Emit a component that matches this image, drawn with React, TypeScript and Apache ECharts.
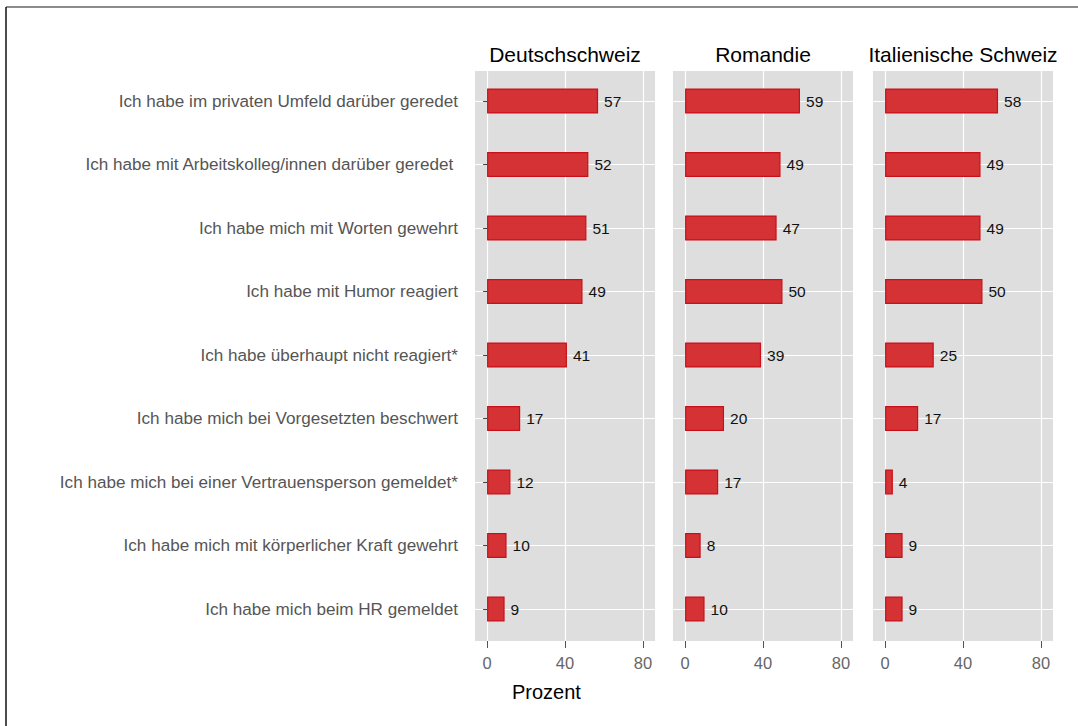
import React, { useEffect, useRef } from 'react';
import * as echarts from 'echarts';

const categories = [
  'Ich habe im privaten Umfeld darüber geredet',
  'Ich habe mit Arbeitskolleg/innen darüber geredet\u00a0',
  'Ich habe mich mit Worten gewehrt',
  'Ich habe mit Humor reagiert',
  'Ich habe überhaupt nicht reagiert*',
  'Ich habe mich bei Vorgesetzten beschwert',
  'Ich habe mich bei einer Vertrauensperson gemeldet*',
  'Ich habe mich mit körperlicher Kraft gewehrt',
  'Ich habe mich beim HR gemeldet',
];
const regions = ['Deutschschweiz', 'Romandie', 'Italienische Schweiz'];
const deutschschweiz = [57, 52, 51, 49, 41, 17, 12, 10, 9];
const romandie = [59, 49, 47, 50, 39, 20, 17, 8, 10];
const italienischeSchweiz = [58, 49, 49, 50, 25, 17, 4, 9, 9];
const xAxisTitle = 'Prozent';

const FONT = '"Liberation Sans", Arial, Helvetica, sans-serif';

export default function App() {
  const ref = useRef<HTMLDivElement>(null);
  useEffect(() => {
    if (!ref.current) return;
    const chart = echarts.init(ref.current, undefined, { renderer: 'svg' });
    const values = [deutschschweiz, romandie, italienischeSchweiz];
    const panelLefts = [475, 673, 873];
    const grids: any[] = [];
    const xAxes: any[] = [];
    const yAxes: any[] = [];
    const series: any[] = [];
    const graphics: any[] = [
      { type: 'line', shape: { x1: 6, y1: 7, x2: 1078, y2: 7 }, style: { stroke: '#666', lineWidth: 1.5 } },
      { type: 'line', shape: { x1: 6, y1: 7, x2: 6, y2: 726 }, style: { stroke: '#111', lineWidth: 1.5 } },
      {
        type: 'text', x: 512, y: 692,
        style: { text: xAxisTitle, fontSize: 20, fill: '#000', fontFamily: FONT, align: 'left', verticalAlign: 'middle' },
      },
    ];
    for (let i = 0; i < 3; i++) {
      const L = panelLefts[i];
      // background grid
      grids.push({ left: L, top: 71, width: 180, height: 570, show: true, backgroundColor: '#dedede', borderWidth: 0 });
      xAxes.push({ gridIndex: 3 * i, type: 'value', min: 0, max: 1, show: false });
      yAxes.push({ gridIndex: 3 * i, type: 'value', min: 0, max: 1, show: false });
      // x-axis grid (0..80)
      grids.push({ left: L + 12, top: 71, width: 156, height: 570 });
      xAxes.push({
        gridIndex: 3 * i + 1, type: 'value', min: 0, max: 80, interval: 40,
        axisLine: { show: false },
        axisTick: { show: true, length: 7, lineStyle: { color: '#555', width: 1 } },
        axisLabel: { color: '#666', fontSize: 16.5, margin: 13, fontFamily: FONT },
        splitLine: { show: true, lineStyle: { color: '#fff', width: 1.2 } },
      });
      yAxes.push({ gridIndex: 3 * i + 1, type: 'value', min: 0, max: 1, show: false });
      // data grid
      grids.push({ left: L, top: 101, width: 180, height: 508 });
      xAxes.push({ gridIndex: 3 * i + 2, type: 'value', min: -6.2, max: 86.2, show: false });
      yAxes.push({
        gridIndex: 3 * i + 2, type: 'category', data: categories, inverse: true, boundaryGap: false,
        offset: 6,
        axisLine: { show: false },
        axisTick: { show: i === 0, length: 4, lineStyle: { color: '#444', width: 1 } },
        axisLabel: { show: i === 0, color: '#555', fontSize: 17.1, margin: 11, fontFamily: FONT },
        splitLine: { show: true, lineStyle: { color: '#fff', width: 1.2 } },
      });
      series.push({
        type: 'bar', name: regions[i], xAxisIndex: 3 * i + 2, yAxisIndex: 3 * i + 2,
        data: values[i], barWidth: 25, z: 3,
        itemStyle: { color: '#d43235', borderColor: '#c8101a', borderWidth: 1.2 },
        label: { show: true, position: 'right', distance: 6, color: '#111', fontSize: 15.5, fontFamily: FONT },
      });
      graphics.push({
        type: 'text', x: L + 90, y: 54,
        style: { text: regions[i], fontSize: 21, fill: '#000', fontFamily: FONT, align: 'center', verticalAlign: 'middle' },
      });
    }
    chart.setOption({
      animation: false,
      backgroundColor: '#fff',
      textStyle: { fontFamily: FONT },
      grid: grids,
      xAxis: xAxes,
      yAxis: yAxes,
      series,
      graphic: graphics,
    });
    return () => chart.dispose();
  }, []);
  return <div ref={ref} style={{ position: 'fixed', left: 0, top: 0, width: 1078, height: 726 }} />;
}
